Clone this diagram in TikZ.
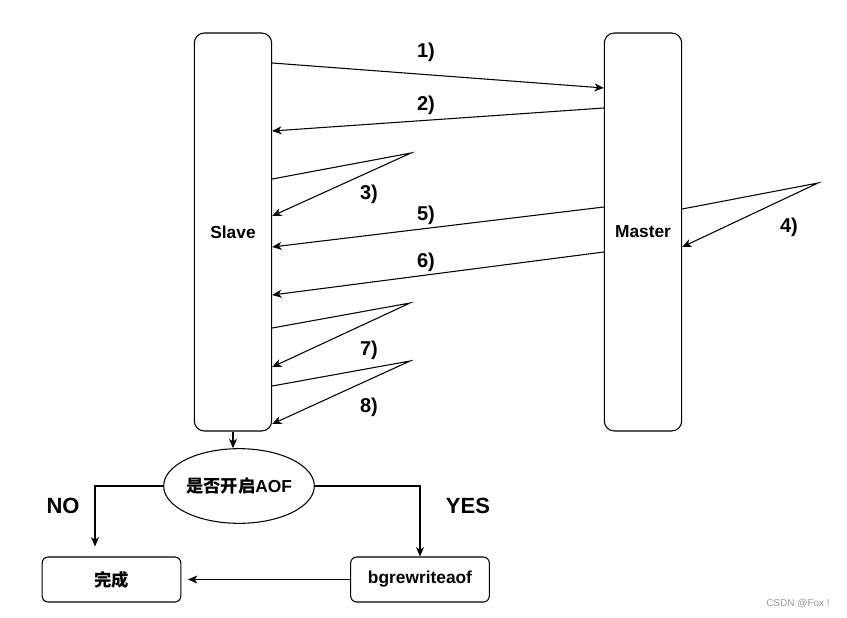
\documentclass[tikz,border=0pt]{standalone}
\usepackage{fontspec}
\setmainfont{Liberation Sans}
\newfontfamily\cjk{Noto Sans CJK SC}
\usetikzlibrary{arrows.meta,shapes.geometric}

\begin{document}
\begin{tikzpicture}[x=0.75pt,y=-0.75pt,line width=0.8pt,
    >={Stealth[length=7pt,width=6pt,inset=2pt]},
    lane/.style={draw,rounded corners=7.5pt,inner sep=0pt,minimum width=58pt,minimum height=298.5pt,font=\fontsize{13}{15}\selectfont\bfseries},
    box/.style={draw,rounded corners=4.5pt,inner sep=0pt,minimum width=104pt,minimum height=33.75pt,font=\fontsize{13}{15}\selectfont\bfseries},
    step label/.style={font=\fontsize{15}{17}\selectfont\bfseries},
    branch label/.style={font=\fontsize{16.5}{18}\selectfont\bfseries}]
    \useasboundingbox (0,0) rectangle (847,618);
    \node[lane] at (233,232) (Slave) {Slave};
    \node[lane] at (643,232) (Master) {Master};
    \node[draw,ellipse,inner sep=0pt,minimum width=113pt,minimum height=56pt,font=\fontsize{13}{15}\selectfont\bfseries] at (239,486) (AOF) {{\cjk 是否开启}AOF};
    \node[box] at (111.5,579.5) (done) {\cjk 完成};
    \node[box] at (420,579.5) (bgrw) {bgrewriteaof};
    \coordinate (t3) at (411,153);
    \coordinate (t4) at (818,183);
    \coordinate (t7) at (410,303);
    \coordinate (t8) at (410,361);
    % Slave <-> Master
    \draw
    (Slave.east |- 0,63) edge[->] (Master.west |- 0,88)
    (Master.west |- 0,108) edge[->] (Slave.east |- 0,131)
    (Master.west |- 0,207) edge[->] (Slave.east |- 0,247)
    (Master.west |- 0,252) edge[->] (Slave.east |- 0,295);
    \draw[->] (Slave.east |- 0,179) -- (t3) -- (Slave.east |- 0,216);
    \draw[->] (Master.east |- 0,209) -- (t4) -- (Master.east |- 0,247);
    \draw[->] (Slave.east |- 0,328) -- (t7) -- (Slave.east |- 0,367);
    \draw[->] (Slave.east |- 0,386) -- (t8) -- (Slave.east |- 0,424);
    \node[step label] at (426,52) {1)};
    \node[step label] at (426,105) {2)};
    \node[step label] at (369,194) {3)};
    \node[step label] at (789,227) {4)};
    \node[step label] at (426,215) {5)};
    \node[step label] at (426,262) {6)};
    \node[step label] at (369,350) {7)};
    \node[step label] at (369,407) {8)};
    % AOF check
    \draw[->] (Slave.south) -- (Slave.south |- AOF.north);
    \draw[->,shorten >=7.5pt] (AOF.west) -| (done.north -| 95,0);
    \draw[->] (AOF.east) -| (bgrw.north);
    \draw[->,shorten >=5pt] (bgrw.west) -- (done.east);
    \node[branch label] at (63,506) {NO};
    \node[branch label] at (468,506) {YES};
    \node[text=black!40,font=\fontsize{7.5}{9}\selectfont] at (798,604) {CSDN @Fox !};
\end{tikzpicture}
\end{document}
